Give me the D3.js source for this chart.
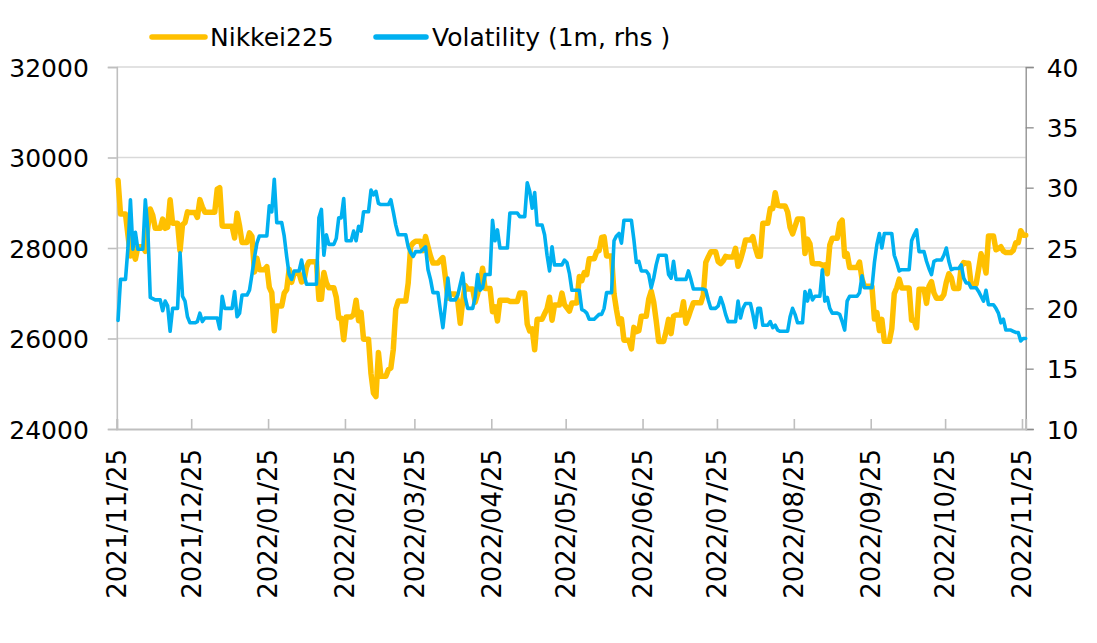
<!DOCTYPE html>
<html>
<head>
<meta charset="utf-8">
<script src="https://cdn.jsdelivr.net/npm/d3@7"></script>
<style>
  html, body { margin: 0; padding: 0; background: #fff; }
  svg { display: block; }
  text { font-family: "DejaVu Sans", Verdana, sans-serif; fill: #000; }
</style>
</head>
<body>
<svg id="chart" width="1097" height="643"></svg>
<script>
// ---------------- DATA ----------------
const seriesNames = ["Nikkei225", "Volatility (1m, rhs )"];
const tickDates = ["2021-11-25","2021-12-25","2022-01-25","2022-02-25","2022-03-25","2022-04-25",
  "2022-05-25","2022-06-25","2022-07-25","2022-08-25","2022-09-25","2022-10-25","2022-11-25"];
const leftTicks = [24000, 26000, 28000, 30000, 32000];
const rightTicks = [10, 15, 20, 25, 30, 35, 40];
const axisEnd = "2022-11-26";

const dates = [
  // 2021-11
  "2021-11-25","2021-11-26","2021-11-29","2021-11-30",
  // 2021-12
  "2021-12-01","2021-12-02","2021-12-03","2021-12-06","2021-12-07","2021-12-08","2021-12-09","2021-12-10",
  "2021-12-13","2021-12-14","2021-12-15","2021-12-16","2021-12-17","2021-12-20","2021-12-21","2021-12-22",
  "2021-12-23","2021-12-24","2021-12-27","2021-12-28","2021-12-29","2021-12-30",
  // 2022-01
  "2022-01-04","2022-01-05","2022-01-06","2022-01-07","2022-01-11","2022-01-12","2022-01-13","2022-01-14",
  "2022-01-17","2022-01-18","2022-01-19","2022-01-20","2022-01-21","2022-01-24","2022-01-25","2022-01-26",
  "2022-01-27","2022-01-28","2022-01-31",
  // 2022-02
  "2022-02-01","2022-02-02","2022-02-03","2022-02-04","2022-02-07","2022-02-08","2022-02-09","2022-02-10",
  "2022-02-14","2022-02-15","2022-02-16","2022-02-17","2022-02-18","2022-02-21","2022-02-22","2022-02-24",
  "2022-02-25","2022-02-28",
  // 2022-03
  "2022-03-01","2022-03-02","2022-03-03","2022-03-04","2022-03-07","2022-03-08","2022-03-09","2022-03-10",
  "2022-03-11","2022-03-14","2022-03-15","2022-03-16","2022-03-17","2022-03-18","2022-03-22","2022-03-23",
  "2022-03-24","2022-03-25","2022-03-28","2022-03-29","2022-03-30","2022-03-31",
  // 2022-04
  "2022-04-01","2022-04-04","2022-04-05","2022-04-06","2022-04-07","2022-04-08","2022-04-11","2022-04-12",
  "2022-04-13","2022-04-14","2022-04-15","2022-04-18","2022-04-19","2022-04-20","2022-04-21","2022-04-22",
  "2022-04-25","2022-04-26","2022-04-27","2022-04-28",
  // 2022-05
  "2022-05-02","2022-05-06","2022-05-09","2022-05-10","2022-05-11","2022-05-12","2022-05-13","2022-05-16",
  "2022-05-17","2022-05-18","2022-05-19","2022-05-20","2022-05-23","2022-05-24","2022-05-25","2022-05-26",
  "2022-05-27","2022-05-30","2022-05-31",
  // 2022-06
  "2022-06-01","2022-06-02","2022-06-03","2022-06-06","2022-06-07","2022-06-08","2022-06-09","2022-06-10",
  "2022-06-13","2022-06-14","2022-06-15","2022-06-16","2022-06-17","2022-06-20","2022-06-21","2022-06-22",
  "2022-06-23","2022-06-24","2022-06-27","2022-06-28","2022-06-29","2022-06-30",
  // 2022-07
  "2022-07-01","2022-07-04","2022-07-05","2022-07-06","2022-07-07","2022-07-08","2022-07-11","2022-07-12",
  "2022-07-13","2022-07-14","2022-07-15","2022-07-19","2022-07-20","2022-07-21","2022-07-22","2022-07-25",
  "2022-07-26","2022-07-27","2022-07-28","2022-07-29",
  // 2022-08
  "2022-08-01","2022-08-02","2022-08-03","2022-08-04","2022-08-05","2022-08-08","2022-08-09","2022-08-10",
  "2022-08-12","2022-08-15","2022-08-16","2022-08-17","2022-08-18","2022-08-19","2022-08-22","2022-08-23",
  "2022-08-24","2022-08-25","2022-08-26","2022-08-29","2022-08-30","2022-08-31",
  // 2022-09
  "2022-09-01","2022-09-02","2022-09-05","2022-09-06","2022-09-07","2022-09-08","2022-09-09","2022-09-12",
  "2022-09-13","2022-09-14","2022-09-15","2022-09-16","2022-09-20","2022-09-21","2022-09-22","2022-09-26",
  "2022-09-27","2022-09-28","2022-09-29","2022-09-30",
  // 2022-10
  "2022-10-03","2022-10-04","2022-10-05","2022-10-06","2022-10-07","2022-10-11","2022-10-12","2022-10-13",
  "2022-10-14","2022-10-17","2022-10-18","2022-10-19","2022-10-20","2022-10-21","2022-10-24","2022-10-25",
  "2022-10-26","2022-10-27","2022-10-28","2022-10-31",
  // 2022-11
  "2022-11-01","2022-11-02","2022-11-04","2022-11-07","2022-11-08","2022-11-09","2022-11-10","2022-11-11",
  "2022-11-14","2022-11-15","2022-11-16","2022-11-17","2022-11-18","2022-11-21","2022-11-22","2022-11-24",
  "2022-11-25"
];

const nikkei = [
  29499, 28752, 28284, 27822,
  27936, 27753, 28030, 27927, 28456, 28861, 28725, 28438, 28640, 28433, 28460, 29066, 28546, 27938, 28518, 28562,
  28798, 28783, 28676, 29069, 28907, 28792,
  29302, 29332, 28488, 28479, 28222, 28766, 28489, 28124, 28334, 28257, 27467, 27773, 27522, 27588, 27131, 27011,
  26170, 26717, 27002,
  27078, 27533, 27241, 27440, 27248, 27284, 27580, 27696, 26865, 26866, 27460, 27232, 27122, 26911, 26450, 25971,
  26477, 26527,
  26844, 26393, 26577, 25985, 25221, 24791, 24718, 25690, 25163, 25308, 25346, 25762, 26653, 26827, 27224, 28040,
  28110, 28150, 27943, 28253, 28027, 27821,
  27666, 27736, 27788, 27350, 26889, 26986, 26822, 26335, 26843, 27172, 27093, 26800, 26985, 27218, 27553, 27105,
  26591, 26700, 26387, 26848,
  26819, 27004, 26319, 26167, 26214, 25749, 26428, 26547, 26660, 26911, 26403, 26739, 27002, 26748, 26678, 26605,
  26782, 27369, 27280,
  27458, 27414, 27762, 27916, 27944, 28234, 28247, 27824, 26987, 26630, 26326, 26431, 25963, 25771, 26246, 26150,
  26171, 26492, 26871, 27049, 26805, 26393,
  25936, 26154, 26423, 26108, 26491, 26517, 26812, 26337, 26479, 26643, 26788, 26962, 27680, 27803, 27915, 27699,
  27655, 27716, 27815, 27802,
  27993, 27595, 27742, 27932, 28176, 28249, 28000, 27819, 28547, 28872, 28869, 29223, 28942, 28930, 28795, 28453,
  28313, 28479, 28641, 27879, 28196, 28092,
  27661, 27651, 27620, 27627, 27430, 28065, 28215, 28542, 28615, 27819, 27876, 27568, 27688, 27313, 27154, 26432,
  26572, 26174, 26422, 25937,
  26216, 26992, 27121, 27311, 27116, 26401, 26397, 26237, 27091, 26776, 27156, 27257, 27007, 26891, 26975, 27250,
  27432, 27345, 27105, 27587,
  27679, 27663, 27200, 27528, 27872, 27716, 27446, 28264, 27963, 27990, 28028, 27931, 27900, 27945, 28116, 28383,
  28283
];

const vol = [
  19.0, 22.4, 25.0, 29.0,
  24.9, 26.3, 24.9, 29.0, 26.6, 20.9, 20.8, 20.7, 19.8, 20.6, 20.2, 18.1, 20.0, 24.6, 21.0, 20.6,
  19.3, 18.8, 18.9, 19.6, 18.9, 19.2,
  19.2, 18.3, 21.0, 20.0, 21.4, 19.3, 19.6, 21.1, 21.5, 22.8, 24.2, 25.4, 26.0, 26.0, 28.5, 28.0,
  30.7, 27.1, 26.0,
  24.3, 22.8, 22.4, 23.1, 24.0, 22.8, 22.0, 22.0, 27.5, 28.2, 24.4, 26.1, 25.3, 25.8, 27.5, 29.1,
  25.6, 26.4,
  25.6, 26.8, 26.4, 28.0, 29.8, 29.4, 29.7, 28.7, 28.6, 28.6, 29.0, 28.0, 26.9, 26.1, 25.1, 24.6,
  24.3, 24.7, 24.9, 25.1, 23.2, 22.4,
  21.3, 19.8, 18.4, 20.3, 22.5, 20.7, 21.1, 22.0, 22.9, 20.9, 20.0, 20.9, 22.8, 21.5, 21.7, 22.8,
  27.3, 25.6, 26.5, 25.0,
  27.9, 27.6, 30.4, 29.7, 28.3, 29.6, 26.9, 26.1, 24.4, 23.1, 25.1, 23.6, 23.6, 24.0, 23.8, 22.9,
  21.5, 21.5, 19.9,
  19.8, 19.6, 19.1, 19.3, 19.5, 19.5, 20.0, 21.3, 25.6, 26.0, 26.2, 25.4, 27.3, 27.3, 25.7, 23.8,
  23.9, 23.1, 22.8, 21.7, 22.5, 23.6,
  24.4, 24.4, 22.8, 22.5, 23.9, 22.4, 22.4, 22.4, 23.1, 22.4, 21.6, 21.6, 21.5, 20.7, 20.0, 20.2,
  20.9, 20.3, 19.5, 18.9,
  18.9, 20.6, 19.2, 20.0, 20.4, 19.5, 18.4, 20.0, 18.6, 18.9, 18.4, 18.6, 18.2, 18.1, 18.1, 19.3,
  20.0, 19.5, 18.8, 21.4, 20.6, 21.5,
  20.7, 21.0, 23.2, 20.6, 20.9, 20.0, 19.6, 19.5, 18.9, 18.2, 20.6, 21.0, 21.3, 22.7, 21.7, 23.8,
  25.3, 26.2, 25.0, 26.2,
  26.2, 24.4, 23.8, 23.1, 23.2, 25.6, 26.1, 26.5, 24.7, 23.9, 23.3, 22.8, 23.9, 24.0, 24.4, 25.0,
  23.9, 23.2, 23.3, 23.6,
  22.5, 22.1, 21.7, 21.4, 21.0, 20.6, 21.5, 20.3, 20.0, 19.6, 18.8, 19.1, 18.2, 18.1, 18.0, 17.3,
  17.5
];

const colors = ["#FFC000", "#00B0F0"];

// ---------------- LAYOUT ----------------
const W = 1097, H = 643;
const plot = { left: 116.8, right: 1025.7, top: 67, bottom: 429 };
const parse = d3.timeParse("%Y-%m-%d");
const svg = d3.select("#chart");

const x = d3.scaleTime()
  .domain([parse(dates[0]), d3.timeHour.offset(parse(axisEnd), 12)])
  .range([plot.left, plot.right]);
const yL = d3.scaleLinear().domain([24000, 32000]).range([plot.bottom, plot.top]);
const yR = d3.scaleLinear().domain([10, 40]).range([plot.bottom, plot.top]);

// gridlines
svg.append("g").selectAll("line").data(leftTicks.filter(v => v > 24000)).join("line")
  .attr("x1", plot.left).attr("x2", plot.right)
  .attr("y1", d => yL(d)).attr("y2", d => yL(d))
  .attr("stroke", "#d9d9d9").attr("stroke-width", 1.6);

// left axis
const gL = svg.append("g").attr("transform", `translate(${plot.left},0)`)
  .call(d3.axisLeft(yL).tickValues(leftTicks).tickSize(9).tickPadding(19).tickFormat(d3.format("d")));
gL.select(".domain").attr("stroke", "#bfbfbf").attr("stroke-width", 1.6);
gL.selectAll(".tick line").attr("stroke", "#bfbfbf").attr("stroke-width", 1.6);
gL.selectAll(".tick text").style("font-size", "25px").attr("dy", "0.36em");

// right axis
const gR = svg.append("g").attr("transform", `translate(${plot.right},0)`)
  .call(d3.axisRight(yR).tickValues(rightTicks).tickSize(8).tickPadding(13));
gR.select(".domain").attr("stroke", "#8c8c8c").attr("stroke-width", 1.3);
gR.selectAll(".tick line").attr("stroke", "#8c8c8c").attr("stroke-width", 1.3);
gR.selectAll(".tick text").style("font-size", "25px").attr("dy", "0.36em");

// bottom axis
const gB = svg.append("g").attr("transform", `translate(0,${plot.bottom})`)
  .call(d3.axisBottom(x).tickValues(tickDates.map(parse)).tickSize(-10).tickFormat(""));
gB.select(".domain").attr("stroke", "#bfbfbf").attr("stroke-width", 2);
gB.selectAll(".tick line").attr("stroke", "#bfbfbf").attr("stroke-width", 1.6);

// rotated date labels
svg.append("g").selectAll("text").data(tickDates).join("text")
  .attr("transform", d => `translate(${x(parse(d))},${plot.bottom + 20}) rotate(-90)`)
  .attr("text-anchor", "end").attr("dy", "0.36em")
  .style("font-size", "26px")
  .text(d => d.replace(/-/g, "/"));

// series with calendar-day carry over non-trading days
function points(values) {
  const pts = [];
  const end = parse(axisEnd);
  for (let i = 0; i < dates.length; i++) {
    const t = parse(dates[i]);
    pts.push([t, values[i]]);
    const next = i < dates.length - 1 ? parse(dates[i + 1]) : d3.timeDay.offset(end, 1);
    const hold = d3.timeDay.offset(next, -1);
    if (hold > t) pts.push([hold, values[i]]);
  }
  return pts;
}
const mid = t => x(d3.timeHour.offset(t, 12));

svg.append("path").datum(points(nikkei))
  .attr("fill", "none").attr("stroke", colors[0]).attr("stroke-width", 5.5)
  .attr("stroke-linejoin", "round").attr("stroke-linecap", "round")
  .attr("d", d3.line().x(d => mid(d[0])).y(d => yL(d[1])));

svg.append("path").datum(points(vol))
  .attr("fill", "none").attr("stroke", colors[1]).attr("stroke-width", 3.6)
  .attr("stroke-linejoin", "round").attr("stroke-linecap", "round")
  .attr("d", d3.line().x(d => mid(d[0])).y(d => yR(d[1])));

// legend
const legend = [
  { name: seriesNames[0], color: colors[0], x1: 152, x2: 205, tx: 210, w: 5.5 },
  { name: seriesNames[1], color: colors[1], x1: 376, x2: 426, tx: 432, w: 5.5 }
];
const lg = svg.append("g");
legend.forEach(l => {
  lg.append("line").attr("x1", l.x1).attr("x2", l.x2).attr("y1", 37).attr("y2", 37)
    .attr("stroke", l.color).attr("stroke-width", l.w).attr("stroke-linecap", "round");
  lg.append("text").attr("x", l.tx).attr("y", 37).attr("dy", "0.36em")
    .style("font-size", "25px").text(l.name);
});
</script>
</body>
</html>
